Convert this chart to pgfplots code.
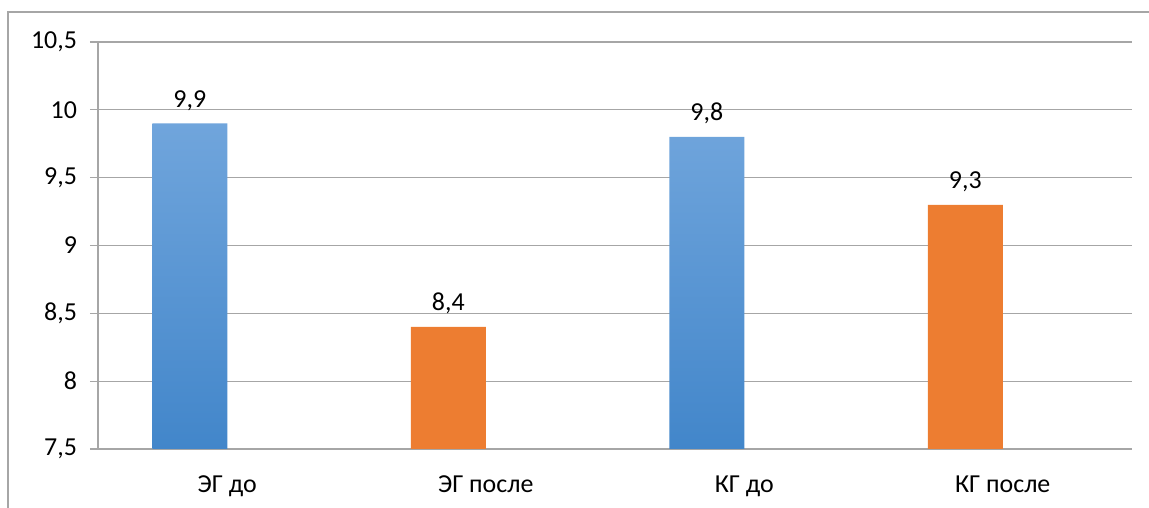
\documentclass[border=0pt]{standalone}
\usepackage{pgfplots}
\pgfplotsset{compat=1.18}
\usepackage{fontspec}
\setmainfont{Carlito}
\definecolor{frame}{RGB}{166,166,166}
\definecolor{gridc}{RGB}{166,166,166}
\definecolor{bluetop}{RGB}{112,165,220}
\definecolor{bluebot}{RGB}{66,134,202}
\definecolor{orangebar}{RGB}{237,125,49}
\begin{document}
\begin{tikzpicture}
\useasboundingbox (0,0) rectangle (574.5bp,254bp);
\draw[frame, line width=0.6bp] (4bp,0) -- (4bp,248bp) -- (574.5bp,248bp);
\begin{axis}[
  at={(49bp,29.5bp)}, anchor=south west,
  scale only axis, width=517bp, height=203.5bp,
  xmin=-0.5, xmax=3.5, ymin=7.5, ymax=10.5,
  axis x line*=bottom, axis y line*=left,
  axis line style={gridc, line width=0.6bp, -},
  ytick={7.5,8,...,10.5},
  ymajorgrids, grid style={gridc, line width=0.6bp},
  xtick={0,1,2,3},
  xticklabels={ЭГ до, ЭГ после, КГ до, КГ после},
  major x tick style={draw=none},
  extra x ticks={-0.5,0.5,1.5,2.5,3.5},
  extra x tick labels={},
  extra x tick style={grid=none, major tick length=4bp, tick align=outside, tick style={gridc, line width=0.6bp}},
  major tick length=4bp, tick align=outside,
  ytick style={gridc, line width=0.6bp},
  tick label style={font=\fontsize{13}{15}\selectfont, black},
  /pgf/number format/assume math mode=true,
  /pgf/number format/use comma,
  yticklabel style={xshift=-3bp},
  xticklabel style={yshift=-6bp},
  ybar, bar width=0.29, bar shift=-0.145,
  nodes near coords,
  nodes near coords style={font=\fontsize{13}{15}\selectfont, black, yshift=3bp,
    /pgf/number format/use comma, /pgf/number format/assume math mode=true},
]
\addplot[draw=none, shading=axis, top color=bluetop, bottom color=bluebot, shading angle=0]
  coordinates {(0,9.9) (2,9.8)};
\addplot[draw=none, fill=orangebar]
  coordinates {(1,8.4) (3,9.3)};
\end{axis}
\end{tikzpicture}
\end{document}
